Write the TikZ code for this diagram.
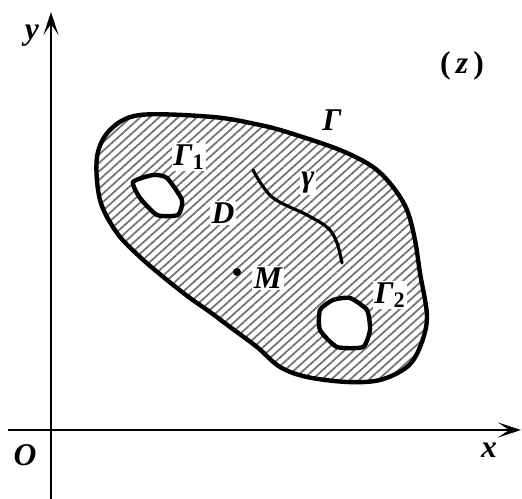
\documentclass[tikz,border=0pt]{standalone}
\usepackage{fontspec}
\setmainfont{Liberation Serif}
\usetikzlibrary{arrows.meta,patterns.meta}
\tikzset{
  axis/.style={line width=0.75pt, -{Stealth[length=4.6mm,width=3mm,inset=2.2mm]}},
  bound/.style={line width=2.5pt, line join=round},
  crv/.style={line width=1.8pt, line cap=round},
  hatch/.style={pattern={Lines[angle=42,distance=3.6pt,line width=1pt]}, pattern color=black!55},
  lbl/.style={font=\fontsize{18}{21}\selectfont\bfseries\itshape, inner sep=1pt},
}
\newcommand{\sub}[1]{\textsubscript{\upshape #1}}
\begin{document}
\begin{tikzpicture}[x=0.02cm,y=-0.02cm]
  \useasboundingbox (0,0) rectangle (522,499);
  % axes
  \coordinate (xs) at (8,430);
  \coordinate (xe) at (521,430);
  \coordinate (ys) at (51,499);
  \coordinate (ye) at (51,12);
  \draw[axis] (xs) -- (xe);
  \draw[axis] (ys) -- (ye);
  \node[lbl] (lo) at (25,455) {O};
  \node[lbl] (lx) at (489,450) {x};
  \node[lbl] (ly) at (32,36) {y};
  \node[lbl, font=\fontsize{18}{21}\selectfont\bfseries] (lz) at (462,66) {(\,\textit{z}\,)};
  % region D with holes
  \def\outer{plot[smooth cycle, tension=0.55] coordinates {(140,115) (213,117) (260,125) (290,133)
    (340,150) (373,167) (393,187) (407,210) (415,240) (420,273) (427,317) (420,347)
    (407,367) (380,380) (347,382) (307,377) (280,367) (257,347) (230,327) (210,312)
    (190,298) (167,280) (140,257) (117,233) (100,200) (97,157) (110,130)}}
  \def\holeA{plot[smooth cycle, tension=0.35] coordinates {(133,182) (153,175) (167,178)
    (182,200) (178,215) (157,215) (140,198)}}
  \def\holeB{plot[smooth cycle, tension=0.35] coordinates {(320,310) (333,300) (350,298)
    (367,310) (370,330) (363,347) (337,347) (320,330)}}
  \path[hatch, even odd rule] \outer \holeA \holeB;
  \draw[bound] \outer;
  \draw[bound] \holeA;
  \draw[bound] \holeB;
  % curve gamma
  \draw[crv] plot[smooth, tension=0.6] coordinates {(253,170) (272,197) (307,215) (328,228) (337,243) (342,263)};
  % point M
  \fill (237,272) circle (4);
  \node[lbl, fill=white] (lm) at (268,278) {M};
  \node[lbl] (lg) at (332,120) {Γ};
  \node[lbl, fill=white] (lg1) at (189,157) {Γ\sub{1}};
  \node[lbl, fill=white] (lg2) at (390,295) {Γ\sub{2}};
  \node[lbl, fill=white] (lgam) at (308,183) {γ};
  \node[lbl, fill=white] (ld) at (223,213) {D};
\end{tikzpicture}
\end{document}
